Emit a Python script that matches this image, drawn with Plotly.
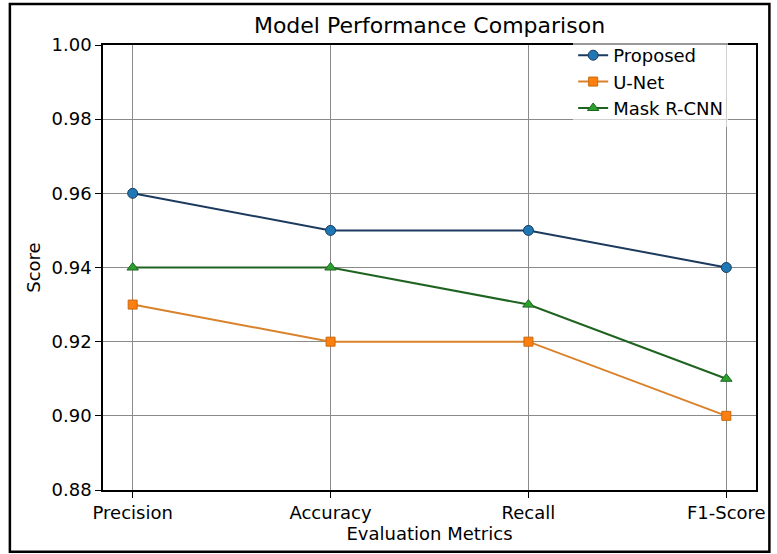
import plotly.graph_objects as go

metrics = ["Precision", "Accuracy", "Recall", "F1-Score"]
proposed = [0.96, 0.95, 0.95, 0.94]
unet = [0.93, 0.92, 0.92, 0.90]
mask_rcnn = [0.94, 0.94, 0.93, 0.91]

font = "DejaVu Sans"

fig = go.Figure()
fig.add_trace(go.Scatter(
    x=metrics, y=proposed, name="Proposed", mode="lines+markers",
    line=dict(color="#1c3a5e", width=2),
    marker=dict(symbol="circle", size=10, color="#1f77b4", line=dict(color="#1c3a5e", width=1))))
fig.add_trace(go.Scatter(
    x=metrics, y=unet, name="U-Net", mode="lines+markers",
    line=dict(color="#d9822b", width=2),
    marker=dict(symbol="square", size=9, color="#ff7f0e", line=dict(color="#c76a10", width=1))))
fig.add_trace(go.Scatter(
    x=metrics, y=mask_rcnn, name="Mask R-CNN", mode="lines+markers",
    line=dict(color="#1e6420", width=2),
    marker=dict(symbol="triangle-up", size=10, color="#2ca02c", line=dict(color="#1e6420", width=1))))

axis_common = dict(
    showline=True, linecolor="black", linewidth=1.5, mirror=True,
    showgrid=True, gridcolor="#8a8a8a", gridwidth=1,
    ticks="outside", ticklen=6, tickcolor="black",
    tickfont=dict(family=font, size=18, color="black"),
    zeroline=False,
)

fig.update_layout(
    width=777, height=554,
    margin=dict(l=103, r=15, t=45, b=64),
    paper_bgcolor="white", plot_bgcolor="white",
    title=dict(text="Model Performance Comparison", xref="paper", x=0.5, xanchor="center",
               y=0.955, yanchor="middle",
               font=dict(family=font, size=22, color="black")),
    xaxis=dict(axis_common, range=[-0.15, 3.15],
               title=dict(text="Evaluation Metrics", standoff=2,
                          font=dict(family=font, size=18, color="black"))),
    yaxis=dict(axis_common, range=[0.88, 1.0], dtick=0.02, tickformat=".2f",
               title=dict(text="Score", standoff=6,
                          font=dict(family=font, size=18, color="black"))),
    legend=dict(x=0.72, y=1.018, xanchor="left", yanchor="top",
                bgcolor="rgba(255,255,255,0.6)", borderwidth=0,
                font=dict(family=font, size=18, color="black"),
                tracegroupgap=0),
    showlegend=True,
)

fig.add_shape(type="rect", xref="paper", yref="paper",
              x0=-0.1426, x1=1.0205, y0=-0.139, y1=1.092,
              line=dict(color="black", width=2.5))

fig.write_html("out.html", config={"displayModeBar": False},
               post_script="document.body.style.margin='0';document.body.style.overflow='hidden';")
